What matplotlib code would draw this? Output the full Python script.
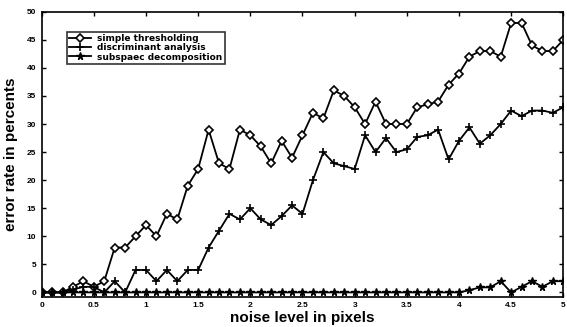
import matplotlib
matplotlib.use("Agg")
import matplotlib.pyplot as plt
import numpy as np

# noise level (pixels), step 0.1 from 0 to 5
noise = np.round(np.arange(0, 5.01, 0.1), 1)

simple_thr = [0, 0, 0, 1, 2, 1, 2, 8, 8, 10, 12,
              10, 14, 13, 19, 22, 29, 23, 22, 29, 28,
              26, 23, 27, 24, 28, 32, 31, 36, 35, 33,
              30, 34, 30, 30, 30, 33, 33.5, 34, 37, 39,
              42, 43, 43, 42, 48, 48, 44, 43, 43, 45]

discrim = [0, 0, 0, 0.5, 1, 1, 0, 2, 0, 4, 4,
           2, 4, 2, 4, 4, 8, 11, 14, 13, 15,
           13, 12, 13.6, 15.5, 14, 20, 25, 23, 22.5, 22,
           28, 25, 27.5, 25, 25.5, 27.7, 28, 29, 23.7, 27,
           29.4, 26.5, 28, 30, 32.4, 31.4, 32.4, 32.4, 32, 33]

subspace = [0] * 41 + [0.4, 0.9, 0.9, 2, 0, 1, 2, 1, 2, 2]

labels = ["simple thresholding", "discriminant analysis", "subspaec decomposition"]
xticks = np.arange(0, 5.01, 0.5)
xticklabels = ["0", "0.5", "1", "1.5", "2", "2.5", "3", "3.5", "4", "4.5", "5"]
yticks = np.arange(0, 51, 5)

plt.rcParams['font.family'] = ['Liberation Sans', 'DejaVu Sans']

fig = plt.figure(figsize=(5.67, 3.27), dpi=100)
ax = fig.add_axes([0.0735, 0.092, 0.92, 0.872])

ax.plot(noise, simple_thr, color='black', lw=1.3, marker='D', ms=4,
        mfc='white', mec='black', mew=1.2, label=labels[0])
ax.plot(noise, discrim, color='black', lw=1.3, marker='+', ms=6,
        mew=1.2, label=labels[1])
ax.plot(noise, subspace, color='black', lw=1.3, marker='*', ms=5.5,
        mfc='black', mec='black', label=labels[2])

ax.set_xlim(0, 5)
ax.set_ylim(-0.8, 50)
ax.set_xticks(xticks)
ax.set_xticklabels(xticklabels)
ax.set_yticks(yticks)
ax.tick_params(direction='in', top=True, right=True, length=3, width=1,
               labelsize=6, pad=4)
for t in ax.get_xticklabels() + ax.get_yticklabels():
    t.set_fontweight('bold')
for s in ax.spines.values():
    s.set_linewidth(1.2)

ax.set_xlabel("noise level in pixels", fontsize=11, fontweight='bold', labelpad=1)
ax.set_ylabel("error rate in percents", fontsize=11, fontweight='bold', labelpad=6)

leg = ax.legend(loc='upper left', bbox_to_anchor=(0.0485, 0.929),
                prop={'family': 'DejaVu Sans', 'weight': 'bold', 'size': 6.5},
                frameon=True, fancybox=False, edgecolor='black',
                handlelength=2.4, borderpad=0.25, labelspacing=0.02,
                handletextpad=0.7, borderaxespad=0)
leg.get_frame().set_linewidth(1.2)

fig.savefig("out.png", dpi=100)
